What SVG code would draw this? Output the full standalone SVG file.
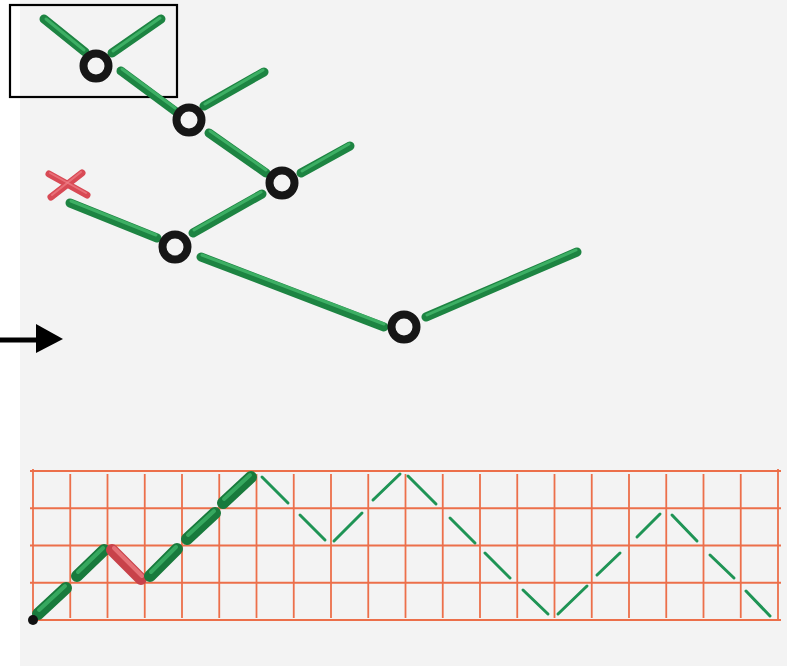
<svg xmlns="http://www.w3.org/2000/svg" width="787" height="666" viewBox="0 0 787 666">
<style>
.tube{stroke:#1d8442;stroke-width:9;stroke-linecap:round;fill:none}
.tubehl{stroke:#48bd70;stroke-width:3;stroke-linecap:round;fill:none;opacity:0.75}
.btube{stroke:#187a3c;stroke-width:12;stroke-linecap:round;fill:none}
.btubehl{stroke:#3fb468;stroke-width:4;stroke-linecap:round;fill:none;opacity:0.8}
.rtube{stroke:#c8424a;stroke-width:12;stroke-linecap:round;fill:none}
.rtubehl{stroke:#ec7a80;stroke-width:4;stroke-linecap:round;fill:none;opacity:0.8}
.thin{stroke:#1f9455;stroke-width:3;stroke-linecap:round;fill:none}
.ring{fill:none;stroke:#161616;stroke-width:8}
.grid line{stroke:#ec6f4a;stroke-width:1.8}
</style>
<rect x="0" y="0" width="787" height="666" fill="#f3f3f3"/>
<rect x="0" y="0" width="20" height="666" fill="#ffffff"/>

<g id="frame">
<rect x="10" y="5" width="167" height="92" fill="none" stroke="#000" stroke-width="2.2"/>
</g>

<g id="connectors">
<g class="tree-branches">
<line class="tube" x1="44" y1="19" x2="85" y2="52"/><line class="tubehl" x1="46" y1="19" x2="84" y2="50"/>
<line class="tube" x1="112" y1="53" x2="161" y2="19"/><line class="tubehl" x1="113" y1="51" x2="160" y2="18"/>
<line class="tube" x1="121" y1="71" x2="175" y2="111"/><line class="tubehl" x1="122" y1="69" x2="175" y2="108"/>
<line class="tube" x1="204" y1="106" x2="264" y2="72"/><line class="tubehl" x1="205" y1="104" x2="263" y2="70"/>
<line class="tube" x1="209" y1="133" x2="266" y2="173"/><line class="tubehl" x1="210" y1="131" x2="266" y2="170"/>
<line class="tube" x1="301" y1="173" x2="350" y2="146"/><line class="tubehl" x1="302" y1="171" x2="349" y2="144"/>
<line class="tube" x1="262" y1="194" x2="193" y2="233"/><line class="tubehl" x1="261" y1="192" x2="194" y2="230"/>
<line class="tube" x1="70" y1="203" x2="157" y2="238"/><line class="tubehl" x1="71" y1="201" x2="156" y2="235"/>
<line class="tube" x1="201" y1="257" x2="384" y2="327"/><line class="tubehl" x1="202" y1="255" x2="384" y2="324"/>
<line class="tube" x1="426" y1="317" x2="577" y2="252"/><line class="tubehl" x1="427" y1="315" x2="576" y2="250"/>
</g>
<g id="arrow">
<line x1="0" y1="340" x2="40" y2="340" stroke="#000" stroke-width="5"/>
<polygon points="36,324 63,339 36,353" fill="#000"/>
</g>
</g>

<g id="nodeA"><circle class="ring" cx="96" cy="66" r="12.5"/></g>
<g id="nodeB"><circle class="ring" cx="189" cy="120" r="12.5"/></g>
<g id="nodeC"><circle class="ring" cx="282" cy="183" r="12.5"/></g>
<g id="nodeD"><circle class="ring" cx="175" cy="247" r="12.5"/></g>
<g id="nodeE"><circle class="ring" cx="404" cy="327" r="12.5"/></g>

<g id="cross">
<line x1="49" y1="174" x2="87" y2="195" stroke="#d84a55" stroke-width="7" stroke-linecap="round"/>
<line x1="51" y1="197" x2="82" y2="173" stroke="#d84a55" stroke-width="7" stroke-linecap="round"/>
<line x1="50" y1="173" x2="86" y2="193" stroke="#f08088" stroke-width="2" stroke-linecap="round" opacity="0.7"/>
<line x1="52" y1="195" x2="81" y2="172" stroke="#f08088" stroke-width="2" stroke-linecap="round" opacity="0.7"/>
</g>

<g id="grid" class="grid">
<line x1="30" y1="471" x2="781" y2="471"/>
<line x1="30" y1="508.25" x2="781" y2="508.25"/>
<line x1="30" y1="545.5" x2="781" y2="545.5"/>
<line x1="30" y1="582.75" x2="781" y2="582.75"/>
<line x1="30" y1="620" x2="781" y2="620"/>
<line x1="33" y1="469" x2="33" y2="621"/>
<line x1="70.25" y1="474" x2="70.25" y2="618"/>
<line x1="107.5" y1="474" x2="107.5" y2="618"/>
<line x1="144.75" y1="474" x2="144.75" y2="618"/>
<line x1="182" y1="474" x2="182" y2="618"/>
<line x1="219.25" y1="474" x2="219.25" y2="618"/>
<line x1="256.5" y1="474" x2="256.5" y2="618"/>
<line x1="293.75" y1="474" x2="293.75" y2="618"/>
<line x1="331" y1="474" x2="331" y2="618"/>
<line x1="368.25" y1="474" x2="368.25" y2="618"/>
<line x1="405.5" y1="474" x2="405.5" y2="618"/>
<line x1="442.75" y1="474" x2="442.75" y2="618"/>
<line x1="480" y1="474" x2="480" y2="618"/>
<line x1="517.25" y1="474" x2="517.25" y2="618"/>
<line x1="554.5" y1="474" x2="554.5" y2="618"/>
<line x1="591.75" y1="474" x2="591.75" y2="618"/>
<line x1="629" y1="474" x2="629" y2="618"/>
<line x1="666.25" y1="474" x2="666.25" y2="618"/>
<line x1="703.5" y1="474" x2="703.5" y2="618"/>
<line x1="740.75" y1="474" x2="740.75" y2="618"/>
<line x1="778" y1="469" x2="778" y2="621"/>
</g>

<g id="pattern">
<line class="btube" x1="38" y1="614" x2="66" y2="588"/><line class="btubehl" x1="39" y1="610" x2="65" y2="586"/>
<line class="btube" x1="77" y1="576" x2="104" y2="550"/><line class="btubehl" x1="78" y1="572" x2="103" y2="548"/>
<line class="rtube" x1="112" y1="550" x2="141" y2="579"/><line class="rtubehl" x1="114" y1="548" x2="142" y2="576"/>
<line class="btube" x1="150" y1="576" x2="177" y2="549"/><line class="btubehl" x1="151" y1="572" x2="176" y2="547"/>
<line class="btube" x1="187" y1="539" x2="215" y2="513"/><line class="btubehl" x1="188" y1="535" x2="214" y2="511"/>
<line class="btube" x1="223" y1="503" x2="251" y2="477"/><line class="btubehl" x1="224" y1="499" x2="250" y2="475"/>
<line class="thin" x1="262" y1="477" x2="288" y2="503"/>
<line class="thin" x1="300" y1="515" x2="325" y2="540"/>
<line class="thin" x1="334" y1="541" x2="362" y2="513"/>
<line class="thin" x1="373" y1="500" x2="400" y2="474"/>
<line class="thin" x1="408" y1="476" x2="436" y2="504"/>
<line class="thin" x1="450" y1="518" x2="475" y2="543"/>
<line class="thin" x1="485" y1="553" x2="510" y2="578"/>
<line class="thin" x1="523" y1="590" x2="548" y2="614"/>
<line class="thin" x1="558" y1="614" x2="587" y2="586"/>
<line class="thin" x1="597" y1="575" x2="620" y2="553"/>
<line class="thin" x1="637" y1="537" x2="660" y2="514"/>
<line class="thin" x1="672" y1="515" x2="697" y2="541"/>
<line class="thin" x1="710" y1="555" x2="734" y2="578"/>
<line class="thin" x1="746" y1="591" x2="770" y2="616"/>
<circle cx="33" cy="620" r="5" fill="#111"/>
</g>
</svg>
